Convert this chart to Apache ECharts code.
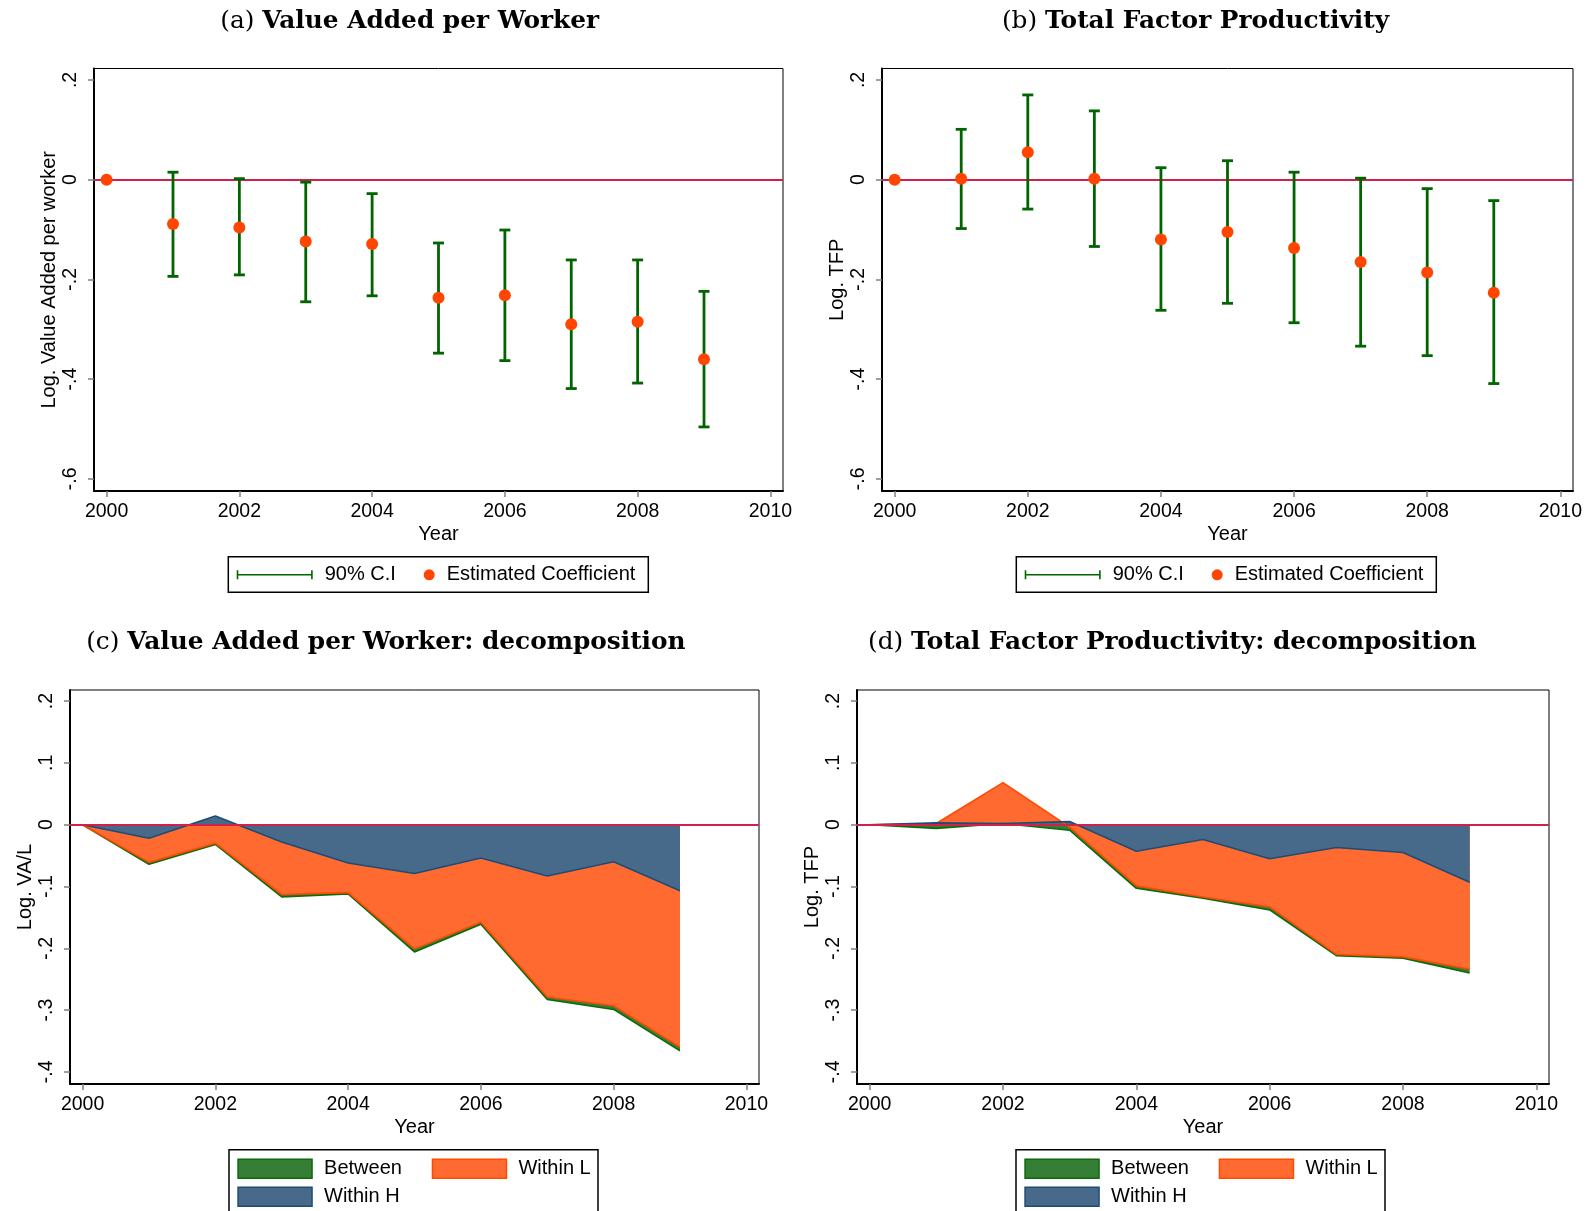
<!DOCTYPE html>
<html>
<head>
<meta charset="UTF-8">
<title>Productivity: event study and decomposition</title>
<script src="https://cdn.jsdelivr.net/npm/echarts@6/dist/echarts.min.js"></script>
<style>
html, body { margin: 0; padding: 0; background: #fff; }
#main { width: 1586px; height: 1211px; }
</style>
</head>
<body>
<div id="main"></div>
<script>
// years on the x axis
var years = [2000, 2001, 2002, 2003, 2004, 2005, 2006, 2007, 2008, 2009];
var ciYears = [2001, 2002, 2003, 2004, 2005, 2006, 2007, 2008, 2009];

// (a) value added per worker
var vaCoef = [0, -0.089, -0.096, -0.124, -0.129, -0.237, -0.232, -0.290, -0.285, -0.360];
var vaLow = [-0.194, -0.191, -0.245, -0.233, -0.348, -0.363, -0.419, -0.408, -0.496];
var vaHigh = [0.015, 0.002, -0.005, -0.028, -0.127, -0.101, -0.161, -0.161, -0.224];

// (b) total factor productivity
var tfpCoef = [0, 0.002, 0.055, 0.002, -0.120, -0.105, -0.137, -0.165, -0.186, -0.227];
var tfpLow = [-0.098, -0.059, -0.134, -0.262, -0.248, -0.287, -0.334, -0.353, -0.409];
var tfpHigh = [0.101, 0.170, 0.138, 0.024, 0.038, 0.015, 0.003, -0.018, -0.042];

// (c) decomposition of VA/L (edges of the overlaid areas)
var vaBetween = [0, -0.064, -0.032, -0.117, -0.112, -0.206, -0.161, -0.283, -0.299, -0.366];
var vaWithinL = [0, -0.061, -0.030, -0.113, -0.110, -0.201, -0.158, -0.279, -0.293, -0.360];
var vaWithinH = [0, -0.022, 0.014, -0.028, -0.062, -0.079, -0.054, -0.083, -0.060, -0.107];

// (d) decomposition of TFP
var tfpBetween = [0, -0.006, 0.002, -0.009, -0.103, -0.119, -0.138, -0.212, -0.216, -0.240];
var tfpWithinL = [0, 0.002, 0.068, -0.004, -0.099, -0.117, -0.133, -0.210, -0.214, -0.234];
var tfpWithinH = [0, 0.003, 0.002, 0.005, -0.043, -0.024, -0.055, -0.037, -0.045, -0.093];

// tick labels
var xTicks = [2000, 2002, 2004, 2006, 2008, 2010];
var yTicksTop = [-0.6, -0.4, -0.2, 0, 0.2];
var yTicksBottom = [-0.4, -0.3, -0.2, -0.1, 0, 0.1, 0.2];

var SANS = 'Liberation Sans';
var SERIF = 'DejaVu Serif';
var CI_GREEN = '#006400';
var DOT = '#ff4500';
var ZERO = '#d0204c';

function stataFmt(v) {
    if (Math.abs(v) < 1e-9) return '0';
    return (v < 0 ? '-' : '') + Math.abs(v).toFixed(1).replace(/^0/, '');
}

function pairs(xs, ys) {
    return xs.map(function (x, i) { return [x, ys[i]]; });
}

function triples(xs, lo, hi) {
    return xs.map(function (x, i) { return [x, lo[i], hi[i]]; });
}

function xAxisFor(i) {
    return {
        gridIndex: i, type: 'value', min: 1999.81, max: 2010.19,
        name: 'Year', nameLocation: 'middle', nameGap: 33, nameMoveOverlap: false,
        nameTextStyle: { fontFamily: SANS, fontSize: 20, color: '#000' },
        axisLine: { onZero: false, lineStyle: { color: '#000', width: 2 } },
        axisTick: { show: true, length: 6, customValues: xTicks, lineStyle: { color: '#808080', width: 1.5 } },
        axisLabel: { customValues: xTicks, margin: 11, fontFamily: SANS, fontSize: 19.5, color: '#000',
            formatter: function (v) { return String(Math.round(v)); } },
        splitLine: { show: false }
    };
}

function yAxisFor(i, name, min, max, ticks) {
    return {
        gridIndex: i, type: 'value', min: min, max: max,
        name: name, nameLocation: 'middle', nameGap: 35, nameMoveOverlap: false,
        nameTextStyle: { fontFamily: SANS, fontSize: 20, color: '#000' },
        axisLine: { onZero: false, lineStyle: { color: '#000', width: 2 } },
        axisTick: { show: true, length: 6, customValues: ticks, lineStyle: { color: '#808080', width: 1.5 } },
        axisLabel: { customValues: ticks, rotate: 90, margin: 13, fontFamily: SANS, fontSize: 19.5,
            color: '#000', formatter: stataFmt },
        splitLine: { show: false }
    };
}

function gridAt(left, top, width, height) {
    return { left: left, top: top, width: width, height: height, show: true,
        borderColor: '#000', borderWidth: 1, outerBoundsMode: 'none', containLabel: false };
}

function ciRender(params, api) {
    var x = api.value(0);
    var lo = api.coord([x, api.value(1)]);
    var hi = api.coord([x, api.value(2)]);
    var cap = 5.5;
    var st = { stroke: CI_GREEN, lineWidth: 2.8 };
    return {
        type: 'group',
        children: [
            { type: 'line', shape: { x1: lo[0], y1: lo[1], x2: hi[0], y2: hi[1] }, style: st },
            { type: 'line', shape: { x1: lo[0] - cap, y1: lo[1], x2: lo[0] + cap, y2: lo[1] }, style: st },
            { type: 'line', shape: { x1: hi[0] - cap, y1: hi[1], x2: hi[0] + cap, y2: hi[1] }, style: st }
        ]
    };
}

function zeroLine(z) {
    return {
        silent: true, symbol: ['none', 'none'], z: z,
        label: { show: false },
        lineStyle: { color: ZERO, width: 2, type: 'solid' },
        data: [{ yAxis: 0 }]
    };
}

function coefSeries(idx, lo, hi, coef) {
    return [
        {
            name: '90% C.I', type: 'custom', xAxisIndex: idx, yAxisIndex: idx,
            renderItem: ciRender, encode: { x: 0, y: [1, 2] },
            itemStyle: { color: CI_GREEN }, z: 3,
            data: triples(ciYears, lo, hi)
        },
        {
            name: 'Estimated Coefficient', type: 'scatter', xAxisIndex: idx, yAxisIndex: idx,
            symbol: 'circle', symbolSize: 12, itemStyle: { color: DOT, opacity: 1 }, z: 4,
            data: pairs(years, coef),
            markLine: zeroLine(1)
        }
    ];
}

var AREA = {
    'Between': { fill: '#367d36', edge: '#0b6b0b' },
    'Within L': { fill: '#ff6a30', edge: '#ff4a00' },
    'Within H': { fill: '#476a8a', edge: '#1f4c74' }
};

function areaSeries(idx, name, vals, withZero) {
    var c = AREA[name];
    var s = {
        name: name, type: 'line', xAxisIndex: idx, yAxisIndex: idx,
        showSymbol: false, symbol: 'none', smooth: false, silent: true,
        itemStyle: { color: c.fill, borderColor: c.edge },
        lineStyle: { color: c.edge, width: 1.6 },
        areaStyle: { color: c.fill, opacity: 1, origin: 'auto' },
        data: pairs(years, vals)
    };
    if (withZero) s.markLine = zeroLine(5);
    return s;
}

function legendItem(name, left, top, icon, w, h, style) {
    return {
        show: true, left: left, top: top, orient: 'horizontal', padding: 0, itemGap: 0,
        itemWidth: w, itemHeight: h, selectedMode: false, symbolKeepAspect: false,
        data: [{ name: name, icon: icon, itemStyle: style }],
        textStyle: { fontFamily: SANS, fontSize: 20, color: '#000', padding: [0, 0, 0, 7] }
    };
}

var CI_ICON = 'path://M0,0h1.6v9h-1.6zM1.6,3.7h72.8v1.6h-72.8zM74.4,0h1.6v9h-1.6z';

function coefLegends(dx) {
    return [
        legendItem('90% C.I', 236.7 + dx, 564.8, CI_ICON, 76, 9, { color: CI_GREEN, borderWidth: 0 }),
        legendItem('Estimated Coefficient', 423.7 + dx, 564.8, 'circle', 11, 11, { color: DOT, borderWidth: 0, opacity: 1 })
    ];
}

function areaLegends(dx) {
    function st(n) { return { color: AREA[n].fill, borderColor: AREA[n].edge, borderWidth: 1.5 }; }
    return [
        legendItem('Between', 237.3 + dx, 1158.5, 'rect', 74, 19, st('Between')),
        legendItem('Within L', 431.7 + dx, 1158.5, 'rect', 74, 19, st('Within L')),
        legendItem('Within H', 237.3 + dx, 1186.5, 'rect', 74, 19, st('Within H'))
    ];
}

function titleText(cx, cy, tag, txt) {
    return {
        type: 'text', x: cx, y: cy, silent: true,
        style: {
            text: '{n|' + tag + ' }{b|' + txt + '}',
            textAlign: 'center', textVerticalAlign: 'middle',
            align: 'center', verticalAlign: 'middle',
            fill: '#000',
            rich: {
                n: { fontFamily: SERIF, fontSize: 24.8, fontWeight: 'normal', fill: '#000' },
                b: { fontFamily: SERIF, fontSize: 24.8, fontWeight: 'bold', fill: '#000' }
            }
        }
    };
}

function frame(x, y, w, h) {
    return { type: 'rect', silent: true, shape: { x: x, y: y, width: w, height: h },
        style: { fill: 'none', stroke: '#000', lineWidth: 1.5 } };
}

var chart = echarts.init(document.getElementById('main'), null, { renderer: 'canvas' });

var option = {
    backgroundColor: '#fff',
    animation: false,
    grid: [
        gridAt(94, 68.5, 689, 422.5),
        gridAt(882, 68.5, 691, 422.5),
        gridAt(70, 690, 689, 394),
        gridAt(857, 690, 692, 394)
    ],
    xAxis: [xAxisFor(0), xAxisFor(1), xAxisFor(2), xAxisFor(3)],
    yAxis: [
        yAxisFor(0, 'Log. Value Added per worker', -0.6245, 0.223, yTicksTop),
        yAxisFor(1, 'Log. TFP', -0.6245, 0.223, yTicksTop),
        yAxisFor(2, 'Log. VA/L', -0.4197, 0.218, yTicksBottom),
        yAxisFor(3, 'Log. TFP', -0.4197, 0.218, yTicksBottom)
    ],
    legend: [].concat(coefLegends(0), coefLegends(788), areaLegends(0), areaLegends(787)),
    graphic: [
        titleText(409.7, 21.5, '(a)', 'Value Added per Worker'),
        titleText(1195.5, 21.5, '(b)', 'Total Factor Productivity'),
        titleText(385.9, 643, '(c)', 'Value Added per Worker: decomposition'),
        titleText(1172.3, 643, '(d)', 'Total Factor Productivity: decomposition'),
        frame(228.3, 556.7, 420, 35.6),
        frame(228.3 + 788, 556.7, 420, 35.6),
        frame(229, 1149.7, 369, 80),
        frame(229 + 787, 1149.7, 369, 80)
    ],
    series: [].concat(
        coefSeries(0, vaLow, vaHigh, vaCoef),
        coefSeries(1, tfpLow, tfpHigh, tfpCoef),
        [
            areaSeries(2, 'Between', vaBetween, false),
            areaSeries(2, 'Within L', vaWithinL, false),
            areaSeries(2, 'Within H', vaWithinH, true),
            areaSeries(3, 'Between', tfpBetween, false),
            areaSeries(3, 'Within L', tfpWithinL, false),
            areaSeries(3, 'Within H', tfpWithinH, true)
        ]
    )
};

chart.setOption(option);
</script>
</body>
</html>
